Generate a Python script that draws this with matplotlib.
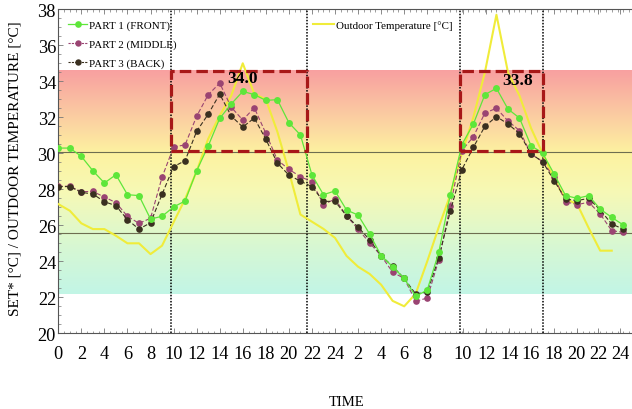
import numpy as np
import matplotlib
matplotlib.use('Agg')
import matplotlib.pyplot as plt
from matplotlib.colors import LinearSegmentedColormap
from matplotlib.lines import Line2D
from matplotlib.ticker import MultipleLocator

plt.rcParams['font.family'] = ['Liberation Serif', 'DejaVu Serif']

# ---------------- data (hourly samples, 0:00 day 1 -> 1:00 day 3) ----------------
part1_front = [30.29, 30.29, 29.83, 29.03, 28.35, 28.81, 27.70, 27.65, 26.35, 26.50,
               27.02, 27.35, 29.03, 30.40, 31.94, 32.74, 33.44, 33.26, 32.94, 32.98,
               31.70, 31.02, 28.80, 27.70, 27.91, 26.85, 26.57, 25.52, 24.31, 23.70,
               23.05, 22.05, 22.41, 24.50, 27.70, 30.48, 31.63, 33.26, 33.61, 32.46,
               31.96, 30.42, 30.02, 28.85, 27.65, 27.50, 27.65, 26.90, 26.44, 26.02]
part2_middle = [28.17, 28.17, 27.87, 27.88, 27.57, 27.26, 26.50, 26.11, 26.39, 28.67,
                30.35, 30.47, 32.06, 33.25, 33.90, 32.56, 31.85, 32.53, 31.11, 29.63,
                29.11, 28.70, 28.42, 27.15, 27.46, 26.53, 25.79, 25.02, 24.31, 23.39,
                23.05, 21.78, 21.96, 24.07, 27.09, 30.15, 30.92, 32.24, 32.50, 31.80,
                31.26, 29.96, 29.54, 28.67, 27.31, 27.15, 27.28, 26.63, 25.70, 25.61]
part3_back = [28.15, 28.15, 27.83, 27.74, 27.31, 27.09, 26.31, 25.79, 26.14, 27.72,
              29.26, 29.59, 31.22, 32.17, 33.29, 32.07, 31.46, 31.96, 30.78, 29.46,
              28.79, 28.45, 28.15, 27.33, 27.33, 26.53, 25.90, 25.20, 24.31, 23.72,
              23.05, 22.18, 22.30, 24.20, 26.78, 29.09, 30.33, 31.50, 32.04, 31.63,
              31.10, 29.96, 29.54, 28.48, 27.46, 27.37, 27.50, 26.85, 26.07, 25.79]
outdoor_temp = [27.18, 26.81, 26.11, 25.79, 25.79, 25.42, 25.00, 25.00, 24.40, 24.87,
                26.17, 27.46, 29.00, 30.80, 32.10, 33.20, 35.00, 33.30, 33.00, 31.20,
                29.00, 26.60, 26.20, 25.80, 25.30, 24.30, 23.70, 23.30, 22.70, 21.80,
                21.50, 22.20, 24.00, 25.90, 27.70, 30.00, 32.00, 34.50, 37.70, 34.50,
                33.20, 31.40, 30.00, 28.57, 27.46, 27.18, 25.85, 24.59, 24.59]

tick_positions = [0, 2, 4, 6, 8, 10, 12, 14, 16, 18, 20, 22, 24,
                  26, 28, 30, 32, 35.1, 37.1, 39.1, 41.0, 43.0, 44.95, 46.85, 48.75]
tick_labels = ['0', '2', '4', '6', '8', '10', '12', '14', '16', '18', '20', '22', '24',
               '2', '4', '6', '8', '10', '12', '14', '16', '18', '20', '22', '24']

occupied_periods = [(9.75, 21.55), (34.8, 42.0)]   # dotted lines / dashed boxes
box_bottom, box_top = 30.15, 34.6
peak_texts = ['34.0', '33.8']
peak_text_pos = [(15.96, 34.17), (39.8, 34.07)]
ref_lines = [30.05, 25.57]
band_low, band_high = 22.2, 34.6

# ---------------- figure ----------------
W, H = 632, 410
fig = plt.figure(figsize=(W / 100, H / 100), dpi=100)
ax_left, ax_right, ax_top, ax_bottom = 57.7, 634.8, 10.3, 334.3
ax = fig.add_axes([ax_left / W, (H - ax_bottom) / H,
                   (ax_right - ax_left) / W, (ax_bottom - ax_top) / H])
xmin, xmax = -0.05, 50
ax.set_xlim(xmin, xmax)
ax.set_ylim(20, 38)

# comfort gradient band
cmap = LinearSegmentedColormap.from_list('band', [
    (0.00, '#c2f5e6'),
    (0.22, '#d8f8d2'),
    (0.45, '#f6f9b6'),
    (0.63, '#fdf2a0'),
    (0.80, '#fbcca2'),
    (1.00, '#f8a0a0')])
grad = np.linspace(0, 1, 256).reshape(-1, 1)
ax.imshow(grad, cmap=cmap, origin='lower', aspect='auto',
          extent=[xmin, xmax, band_low, band_high], interpolation='bilinear', zorder=0)

for yv in ref_lines:
    ax.axhline(yv, color='#6e6e50', lw=0.8, zorder=1)

for x0, x1 in occupied_periods:
    ax.axvline(x0, color='black', ls=(0, (1, 1)), lw=1.1, zorder=2)
    ax.axvline(x1, color='black', ls=(0, (1, 1)), lw=1.1, zorder=2)

x_out = np.arange(len(outdoor_temp))
x_p = np.arange(len(part1_front))

yellow = '#f0ec3a'
c1, c2, c3 = '#5ee63a', '#9a4472', '#3a3020'

ax.plot(x_out, outdoor_temp, color=yellow, lw=1.5, zorder=3)
ax.plot(x_p, part2_middle, color=c2, lw=0.8, ls=(0, (4, 2)), marker='o', ms=4.8,
        mfc=c2, mec='none', zorder=4)
ax.plot(x_p, part3_back, color=c3, lw=0.8, ls=(0, (4, 2)), marker='o', ms=4.8,
        mfc=c3, mec='none', zorder=5)
ax.plot(x_p, part1_front, color=c1, lw=0.9, marker='o', ms=5.0,
        mfc=c1, mec='none', zorder=6)

# dashed boxes around the peak periods
for x0, x1 in occupied_periods:
    ax.plot([x0, x1, x1, x0, x0], [box_bottom, box_bottom, box_top, box_top, box_bottom],
            color='#a81818', lw=2.3, ls=(0, (3.6, 1.6)), zorder=7, solid_capstyle='butt')

for txt, (px, py) in zip(peak_texts, peak_text_pos):
    ax.text(px, py, txt, ha='center', va='center', fontsize=12.5, fontweight='bold',
            color='black', zorder=8)

# axes styling
ax.spines['right'].set_visible(False)
for s in ['left', 'bottom', 'top']:
    ax.spines[s].set_color('#555555')
    ax.spines[s].set_linewidth(0.8)
ax.set_xticks(tick_positions)
ax.set_xticklabels(tick_labels)
ax.set_yticks(np.arange(20, 39, 2))
ax.xaxis.set_minor_locator(MultipleLocator(0.5))
ax.yaxis.set_minor_locator(MultipleLocator(0.5))
ax.tick_params(axis='x', which='both', direction='in', top=True, labelsize=13.2,
               pad=8.5, color='#777777')
ax.tick_params(axis='y', which='both', direction='in', labelsize=13.2, pad=1.2,
               color='#777777')
ax.tick_params(which='major', length=3.5, width=0.6)
ax.tick_params(which='minor', length=1.8, width=0.5)

ax.set_ylabel('SET* [°C] / OUTDOOR TEMPERATURE [°C]', fontsize=11)
ax.yaxis.set_label_coords(-0.062, 0.512)
ax.set_xlabel('TIME', fontsize=10.5)
ax.xaxis.set_label_coords(0.5, -0.19)

# legends
lfs = 7.9
leg_top = 21.5
h1 = Line2D([], [], color=c1, lw=0.9, marker='o', ms=4.8, mec='none')
h2 = Line2D([], [], color=c2, lw=0.8, ls=(0, (2, 1)), marker='o', ms=4.6, mec='none')
h3 = Line2D([], [], color=c3, lw=0.8, ls=(0, (2, 1)), marker='o', ms=4.6, mec='none')
leg1 = ax.legend([h1, h2, h3], ['PART 1 (FRONT)', 'PART 2 (MIDDLE)', 'PART 3 (BACK)'],
                 loc='upper left', bbox_to_anchor=((68 - ax_left) / (ax_right - ax_left),
                                                   (ax_bottom - leg_top) / (ax_bottom - ax_top)),
                 frameon=False, fontsize=lfs, handlelength=1.75, handletextpad=0.12,
                 labelspacing=0.82, borderpad=0, borderaxespad=0, numpoints=1)
ax.add_artist(leg1)
h4 = Line2D([], [], color=yellow, lw=1.5)
ax.legend([h4], ['Outdoor Temperature [°C]'], loc='upper left',
          bbox_to_anchor=((313 - ax_left) / (ax_right - ax_left),
                          (ax_bottom - leg_top) / (ax_bottom - ax_top)),
          frameon=False, fontsize=lfs, handlelength=1.95, handletextpad=0.12,
          borderpad=0, borderaxespad=0)

fig.savefig('out.png', dpi=100)
